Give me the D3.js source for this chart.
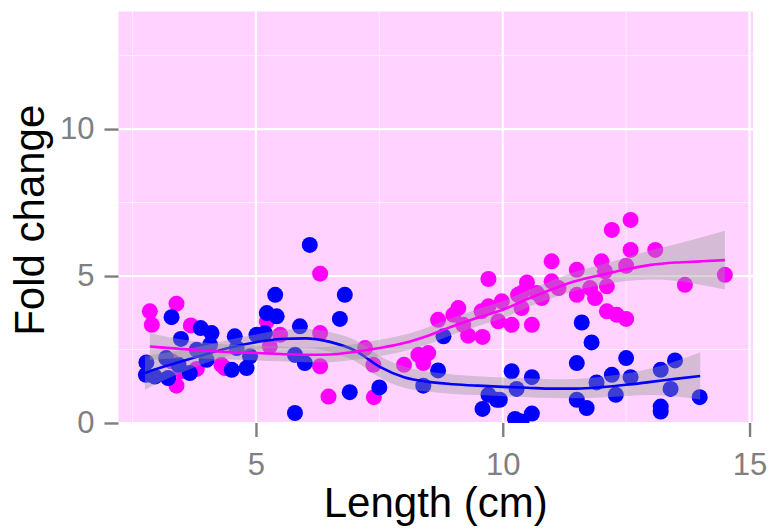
<!DOCTYPE html>
<html>
<head>
<meta charset="utf-8">
<script src="https://cdn.jsdelivr.net/npm/d3@7"></script>
<style>
  body { margin: 0; background: #fff; }
  svg { display: block; font-family: "Liberation Sans", Arial, sans-serif; }
</style>
</head>
<body>
<div id="chart"></div>
<script>
// points
const pinkX = [2.85, 2.89, 3.39, 3.68, 3.39, 3.49, 3.80, 4.30, 4.37, 3.29, 5.22, 5.49, 5.28, 6.30, 6.30, 6.30, 6.47,
  7.21, 7.38, 7.39, 8.00, 8.29, 8.49, 8.39, 8.69, 9.00, 9.10, 9.20, 9.30, 9.59, 9.57, 9.71, 9.71, 9.91, 9.98,
  10.18, 10.31, 10.38, 10.49, 10.38, 10.59, 10.69, 10.79, 10.99, 10.99, 11.13, 11.50, 11.50, 11.77, 11.87,
  12.00, 12.07, 12.11, 12.11, 12.31, 12.50, 12.21, 12.59, 12.59, 12.50, 13.09, 13.69, 14.50];
const pinkY = [3.80, 3.34, 4.06, 3.32, 1.27, 1.76, 1.84, 1.98, 1.87, 2.10, 3.46, 3.00, 2.61, 5.08, 3.06, 1.93, 0.90,
  2.55, 1.98, 0.88, 1.98, 2.32, 2.38, 2.04, 3.51, 3.68, 3.91, 3.34, 2.97, 2.93, 3.80, 3.97, 4.90, 3.46, 4.14,
  3.34, 4.36, 4.42, 4.78, 3.91, 3.34, 4.42, 4.25, 5.50, 4.82, 4.59, 5.21, 4.36, 4.59, 4.25,
  5.50, 5.16, 4.65, 3.80, 3.68, 3.54, 6.57, 6.91, 5.89, 5.35, 5.89, 4.70, 5.04];

const blueX = [2.78, 2.77, 2.95, 3.22, 3.18, 3.43, 3.66, 3.80, 4.07, 4.00, 3.29, 3.48, 3.88, 4.10, 4.57, 4.61, 4.51,
  4.81, 4.88, 5.01, 5.22, 5.39, 5.42, 5.18, 5.89, 5.79, 5.99, 5.79, 6.09, 6.80, 6.70, 6.90, 7.50,
  8.80, 8.69, 8.39, 9.59, 9.71, 9.88, 9.94, 10.18, 10.28, 10.59, 10.25, 10.59, 10.38,
  11.60, 11.80, 11.50, 11.50, 11.70, 11.90, 12.21, 12.29, 12.50, 12.59, 13.20, 13.20, 13.20, 13.40, 13.49, 13.99];
const blueY = [2.06, 1.64, 1.58, 1.53, 2.21, 1.98, 1.70, 2.49, 2.66, 2.15, 3.60, 2.86, 3.23, 3.06, 2.95, 2.55, 1.81,
  1.87, 2.27, 3.00, 3.74, 4.36, 3.63, 3.06, 3.29, 2.32, 2.04, 0.34, 6.06, 4.36, 3.54, 1.05, 1.21,
  2.95, 1.79, 1.27, 0.48, 0.96, 0.79, 0.79, 1.76, 1.16, 1.56, 0.14, 0.32, 0.05,
  3.42, 2.74, 2.04, 0.79, 0.51, 1.38, 1.64, 0.96, 2.21, 1.56, 1.81, 0.56, 0.39, 1.16, 2.13, 0.88];

// smoothed trends with their bands
const pinkSmoothX = [2.85, 3.0, 3.5, 4.0, 4.5, 5.0, 5.5, 6.0, 6.5, 7.0, 7.5, 8.0, 8.5, 9.0, 9.5, 10.0, 10.5, 11.0,
  11.5, 12.0, 12.5, 13.0, 13.5, 14.0, 14.5];
const pinkFit = [2.60, 2.58, 2.52, 2.46, 2.41, 2.38, 2.35, 2.32, 2.33, 2.42, 2.55, 2.72, 2.98, 3.30, 3.59, 3.85, 4.22,
  4.55, 4.84, 5.04, 5.23, 5.38, 5.46, 5.50, 5.54];
const pinkLo = [2.15, 2.16, 2.20, 2.19, 2.16, 2.13, 2.10, 2.07, 2.07, 2.15, 2.27, 2.44, 2.69, 3.01, 3.30, 3.56, 3.93,
  4.25, 4.52, 4.69, 4.83, 4.88, 4.84, 4.70, 4.54];
const pinkHi = [3.05, 3.00, 2.84, 2.73, 2.66, 2.63, 2.60, 2.57, 2.59, 2.69, 2.83, 3.00, 3.27, 3.59, 3.88, 4.14, 4.51,
  4.85, 5.16, 5.39, 5.63, 5.88, 6.08, 6.30, 6.54];

const blueSmoothX = [2.75, 3.0, 3.5, 4.0, 4.5, 5.0, 5.5, 6.0, 6.5, 7.0, 7.5, 8.0, 8.5, 9.0, 9.5, 10.0, 10.5, 11.0,
  11.5, 12.0, 12.5, 13.0, 13.5, 14.0];
const blueFit = [1.70, 1.85, 2.10, 2.35, 2.58, 2.75, 2.86, 2.88, 2.76, 2.47, 1.92, 1.56, 1.40, 1.32, 1.27, 1.23, 1.20,
  1.17, 1.17, 1.22, 1.30, 1.40, 1.50, 1.60];
const blueLo = [1.12, 1.35, 1.72, 2.05, 2.31, 2.49, 2.56, 2.56, 2.42, 2.11, 1.55, 1.20, 1.06, 0.99, 0.95, 0.91, 0.88,
  0.85, 0.84, 0.87, 0.92, 0.95, 0.90, 0.80];
const blueHi = [2.28, 2.35, 2.48, 2.65, 2.85, 3.01, 3.16, 3.20, 3.10, 2.83, 2.29, 1.92, 1.74, 1.65, 1.59, 1.55, 1.52,
  1.49, 1.50, 1.57, 1.68, 1.85, 2.10, 2.40];

const xTicks = [5, 10, 15];
const yTicks = [0, 5, 10];
const xMinor = [2.5, 7.5, 12.5];
const yMinor = [2.5, 7.5, 12.5];

const width = 771;
const height = 529;
const panel = { left: 118.5, right: 753, top: 11.5, bottom: 423 };

const svg = d3.select('#chart').append('svg')
  .attr('width', width)
  .attr('height', height);

const x = d3.scaleLinear().domain([2.215, 15.07]).range([panel.left, panel.right]);
const y = d3.scaleLinear().domain([0, 14]).range([panel.bottom, panel.top]);

svg.append('defs').append('clipPath').attr('id', 'clip')
  .append('rect')
  .attr('x', panel.left).attr('y', panel.top)
  .attr('width', panel.right - panel.left)
  .attr('height', panel.bottom - panel.top);

svg.append('rect')
  .attr('x', panel.left).attr('y', panel.top)
  .attr('width', panel.right - panel.left)
  .attr('height', panel.bottom - panel.top)
  .attr('fill', '#ffd2ff');

const grid = svg.append('g');
grid.selectAll('.vminor').data(xMinor).enter().append('line')
  .attr('x1', d => x(d)).attr('x2', d => x(d))
  .attr('y1', panel.top).attr('y2', panel.bottom)
  .attr('stroke', '#ffeeff').attr('stroke-width', 1);
grid.selectAll('.hminor').data(yMinor).enter().append('line')
  .attr('y1', d => y(d)).attr('y2', d => y(d))
  .attr('x1', panel.left).attr('x2', panel.right)
  .attr('stroke', '#ffeeff').attr('stroke-width', 1);
grid.selectAll('.vmajor').data(xTicks).enter().append('line')
  .attr('x1', d => x(d)).attr('x2', d => x(d))
  .attr('y1', panel.top).attr('y2', panel.bottom)
  .attr('stroke', '#ffffff').attr('stroke-width', 2.2);
grid.selectAll('.hmajor').data(yTicks).enter().append('line')
  .attr('y1', d => y(d)).attr('y2', d => y(d))
  .attr('x1', panel.left).attr('x2', panel.right)
  .attr('stroke', '#ffffff').attr('stroke-width', 2.2);

const plot = svg.append('g').attr('clip-path', 'url(#clip)');

plot.selectAll('.pink').data(d3.range(pinkX.length)).enter().append('circle')
  .attr('cx', i => x(pinkX[i])).attr('cy', i => y(pinkY[i]))
  .attr('r', 8).attr('fill', '#ff00ff');
plot.selectAll('.blue').data(d3.range(blueX.length)).enter().append('circle')
  .attr('cx', i => x(blueX[i])).attr('cy', i => y(blueY[i]))
  .attr('r', 8).attr('fill', '#0000ff');

function drawSmooth(xs, fit, lo, hi, colour) {
  const idx = d3.range(xs.length);
  const band = d3.area()
    .x(i => x(xs[i])).y0(i => y(lo[i])).y1(i => y(hi[i]))
    .curve(d3.curveMonotoneX);
  const line = d3.line()
    .x(i => x(xs[i])).y(i => y(fit[i]))
    .curve(d3.curveMonotoneX);
  plot.append('path').attr('d', band(idx))
    .attr('fill', '#999999').attr('fill-opacity', 0.4);
  plot.append('path').attr('d', line(idx))
    .attr('fill', 'none').attr('stroke', colour).attr('stroke-width', 2.6);
}
drawSmooth(blueSmoothX, blueFit, blueLo, blueHi, '#0000ff');
drawSmooth(pinkSmoothX, pinkFit, pinkLo, pinkHi, '#ff00ff');

// axes
const xAxis = svg.append('g')
  .attr('transform', `translate(0,${panel.bottom})`)
  .call(d3.axisBottom(x).tickValues(xTicks).tickSize(14).tickFormat(d3.format('d')));
xAxis.selectAll('text').attr('y', 52).attr('dy', null);

const yAxis = svg.append('g')
  .attr('transform', `translate(${panel.left},0)`)
  .call(d3.axisLeft(y).tickValues(yTicks).tickSize(14).tickPadding(10).tickFormat(d3.format('d')));

[xAxis, yAxis].forEach(a => {
  a.select('.domain').remove();
  a.selectAll('line').attr('stroke', '#7f7f7f').attr('stroke-width', 2.4);
  a.selectAll('text').attr('fill', '#7f7f7f').style('font-size', '31px')
    .style('font-family', '"Liberation Sans", Arial, sans-serif');
});

svg.append('text')
  .attr('x', (panel.left + panel.right) / 2)
  .attr('y', 517)
  .attr('text-anchor', 'middle')
  .style('font-size', '42px')
  .attr('fill', '#000')
  .text('Length (cm)');

svg.append('text')
  .attr('transform', `translate(44,${(panel.top + panel.bottom) / 2 + 3}) rotate(-90)`)
  .attr('text-anchor', 'middle')
  .style('font-size', '42px')
  .attr('fill', '#000')
  .text('Fold change');
</script>
</body>
</html>
